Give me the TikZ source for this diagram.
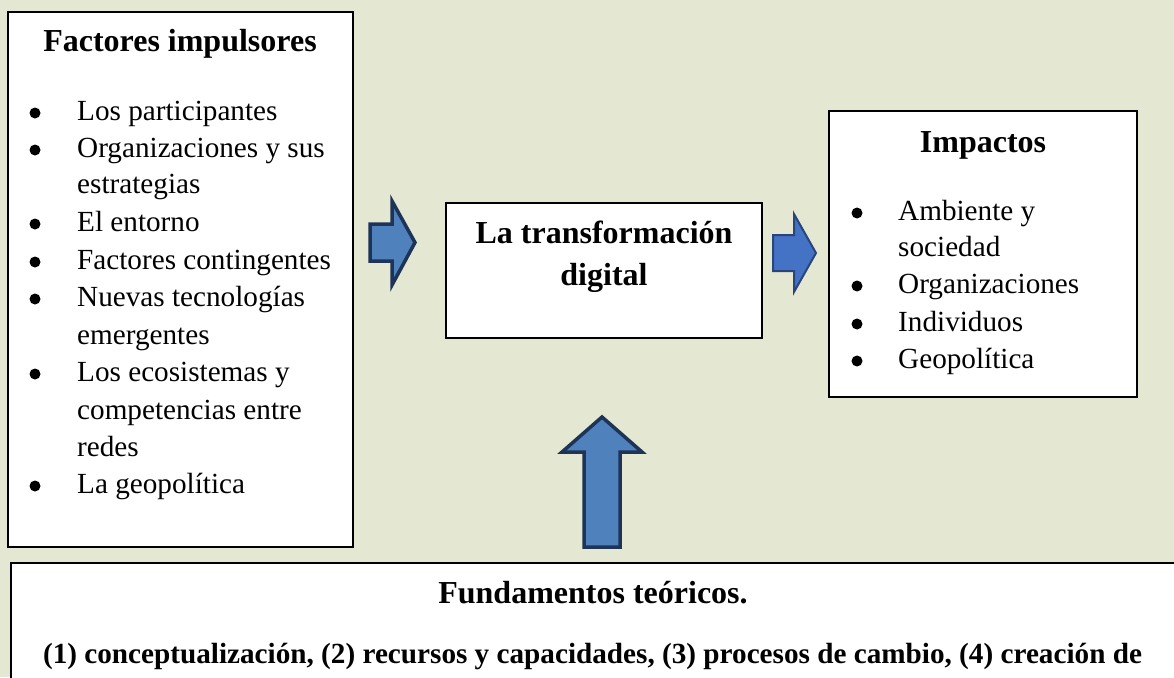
\documentclass[tikz,border=0pt]{standalone}
\usepackage{fontspec}
\setmainfont{Liberation Serif}
\usetikzlibrary{positioning}

\definecolor{paper}{RGB}{228,231,209}
\definecolor{arrowfill}{RGB}{79,129,189}
\definecolor{arrowline}{RGB}{30,52,86}
\definecolor{arrowfillb}{RGB}{68,114,196}
\definecolor{arrowlineb}{RGB}{40,70,125}

\begin{document}
\begin{tikzpicture}[x=1pt,y=-1pt,
  box/.style={draw=black,line width=1.8pt,fill=white,inner sep=0},
  head/.style={font=\fontsize{32}{42}\selectfont\bfseries,inner sep=0,anchor=base},
  entry/.style={font=\fontsize{29.2}{37.5}\selectfont,inner sep=0,anchor=base west},
  dot/.style={circle,fill=black,inner sep=0,minimum size=11pt},
  blockarrow/.style={draw=arrowline,line width=3.5pt,fill=arrowfill,line join=miter}]
\useasboundingbox (0,0) rectangle (1174,677);
\fill[paper] (0,0) rectangle (1174,677);
\clip (0,0) rectangle (1174,677);

% boxes
\node[box,minimum width=345pt,minimum height=535pt] (drivers) at (180.5,279.5) {};
\node[box,minimum width=316pt,minimum height=135pt] (core) at (604,270.5) {};
\node[box,minimum width=308pt,minimum height=286pt] (impacts) at (983,254) {};
\node[box,anchor=north west,minimum width=1180pt,minimum height=200pt] (theory) at (10,562) {};

% left box
\node[head] (driverstitle) at (180,52) {Factores impulsores};
\foreach \y/\b/\t in {120/1/Los participantes, 157/1/Organizaciones y sus, 193/0/estrategias,
  231/1/El entorno, 269/1/Factores contingentes, 306/1/Nuevas tecnologías, 344/0/emergentes,
  381/1/Los ecosistemas y, 419/0/competencias entre, 456/0/redes, 493/1/La geopolítica}{
  \node[entry] (d\y) at (77,\y) {\t};
  \ifnum\b=1 \node[dot] (db\y) at (35,\y-7) {}; \fi
}

% middle box
\node[head] (coretitle) at (604,243) {La transformación};
\node[head] (coretitleb) at (604,285) {digital};

% right box
\node[head] (impactstitle) at (983,152) {Impactos};
\foreach \y/\b/\t in {220/1/Ambiente y, 256/0/sociedad, 293/1/Organizaciones,
  331/1/Individuos, 368/1/Geopolítica}{
  \node[entry] (i\y) at (898,\y) {\t};
  \ifnum\b=1 \node[dot] (ib\y) at (857,\y-7) {}; \fi
}

% bottom box
\node[head] (theorytitle) at (593,603) {Fundamentos teóricos.};
\node[entry,anchor=base,font=\fontsize{29.2}{37.5}\selectfont\bfseries] (theorylist) at (592.5,663)
  {(1) conceptualización, (2) recursos y capacidades, (3) procesos de cambio, (4) creación de};

% block arrows
\draw[blockarrow] (370,224) -- (392,224) -- (392,201) -- (415,242.5) -- (392,285) -- (392,261) -- (370,261) -- cycle;
\draw[blockarrow,draw=arrowlineb,fill=arrowfillb,line width=2pt] (773,235) -- (794,235) -- (794,214) -- (816,253) -- (794,292) -- (794,271) -- (773,271) -- cycle;
\draw[blockarrow] (602,417) -- (642,452) -- (620,452) -- (620,547) -- (584,547) -- (584,452) -- (562,452) -- cycle;
\end{tikzpicture}
\end{document}
